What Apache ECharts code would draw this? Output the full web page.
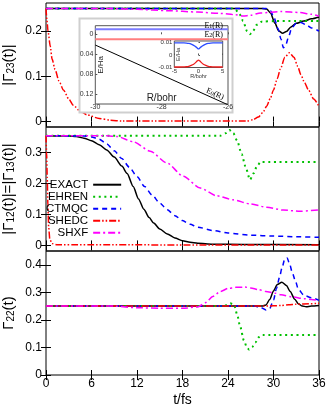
<!DOCTYPE html>
<html>
<head>
<meta charset="utf-8">
<script src="https://cdn.jsdelivr.net/npm/echarts@6/dist/echarts.min.js"></script>
<style>
  html, body { margin: 0; padding: 0; background: #fff; }
  #chart { width: 332px; height: 406px; }
</style>
</head>
<body>
<div id="chart"></div>
<script>
const FONT = '"Liberation Sans", Arial, sans-serif';
const SERIF = '"Liberation Serif", "Times New Roman", serif';

const methods = ['EXACT', 'EHREN', 'CTMQC', 'SHEDC', 'SHXF'];
const tTicks = [0, 6, 12, 18, 24, 30, 36];
const ticks23 = [0, 0.1, 0.2];
const ticks12 = [0, 0.1, 0.2, 0.3];
const ticks22 = [0, 0.1, 0.2, 0.3, 0.4];

// |Gamma_23(t)|  -- [t/fs, value]
const g23Exact = [[0,0.25],[28.5,0.25],[29.1,0.249],[29.6,0.24],[30.2,0.217],[30.7,0.2],[31.2,0.195],[31.7,0.199],[32.3,0.209],[33,0.217],[34,0.222],[35,0.227],[36,0.231]];
const g23Ehren = [[0,0.25],[24.5,0.25],[25,0.247],[25.5,0.238],[26,0.222],[26.5,0.2],[26.9,0.193],[27.3,0.2],[27.8,0.214],[28.5,0.221],[30,0.222],[33,0.222],[36,0.222]];
const g23Ctmqc = [[0,0.25],[29,0.25],[29.6,0.245],[30.1,0.228],[30.6,0.205],[31,0.182],[31.3,0.163],[31.6,0.168],[32,0.188],[32.4,0.207],[33,0.217],[33.6,0.219],[34.3,0.214],[35,0.207],[36,0.2]];
const g23Shedc = [[0,0.25],[0.12,0.225],[0.26,0.2],[0.57,0.166],[0.8,0.138],[1.2,0.115],[1.7,0.09],[2.3,0.07],[3,0.05],[3.6,0.036],[4.5,0.023],[5.4,0.015],[7,0.007],[8.5,0.003],[10,0.001],[26.5,0.001],[27.3,0.004],[28,0.01],[28.6,0.02],[29.1,0.034],[29.6,0.052],[30,0.07],[30.5,0.095],[30.9,0.116],[31.5,0.142],[32.1,0.152],[32.7,0.142],[33.2,0.122],[33.6,0.104],[34.1,0.086],[34.6,0.07],[35.3,0.05],[36,0.033]];
const g23Shxf = [[0,0.25],[8,0.25],[12,0.248],[16,0.245],[20,0.242],[23,0.239],[25,0.236],[26,0.233],[27,0.235],[28.3,0.24],[31,0.243],[33.5,0.241],[35,0.237],[36,0.233]];

// |Gamma_12(t)| = |Gamma_13(t)|
const g12Exact = [[0,0.354],[3,0.353],[4,0.351],[5,0.346],[6,0.338],[7,0.325],[8,0.308],[9,0.285],[10,0.256],[10.7,0.232],[11.5,0.19],[12.2,0.15],[12.9,0.117],[13.6,0.09],[14.2,0.072],[15,0.053],[16,0.037],[17,0.024],[18,0.015],[19,0.01],[20,0.007],[22,0.004],[26,0.003],[36,0.002]];
const g12Ehren = [[0,0.354],[23,0.354],[23.7,0.362],[24.2,0.372],[24.7,0.362],[25.2,0.338],[25.8,0.295],[26.3,0.255],[26.9,0.212],[27.4,0.233],[27.8,0.255],[28.3,0.269],[36,0.269]];
const g12Ctmqc = [[0,0.354],[5,0.353],[6,0.35],[7,0.343],[8,0.328],[9,0.305],[10,0.28],[11,0.252],[12,0.222],[13,0.19],[14,0.162],[15,0.137],[16,0.115],[17,0.096],[18,0.08],[19,0.068],[20,0.059],[22,0.048],[24,0.04],[27,0.033],[30,0.03],[33,0.028],[36,0.026]];
const g12Shedc = [[0,0.354],[0.08,0.3],[0.16,0.22],[0.25,0.13],[0.35,0.06],[0.5,0.02],[0.8,0.006],[1.5,0.002],[36,0.001]];
const g12Shxf = [[0,0.354],[8,0.354],[9.4,0.351],[11.55,0.334],[13.75,0.304],[15.95,0.266],[18.1,0.223],[20.35,0.185],[22.5,0.16],[24.7,0.147],[26.9,0.134],[29.1,0.123],[31.3,0.114],[33.5,0.11],[36,0.115]];

// Gamma_22(t)
const g22Exact = [[0,0.25],[28.5,0.25],[29,0.254],[29.5,0.274],[30,0.305],[30.5,0.328],[31.1,0.337],[31.7,0.325],[32.2,0.303],[32.8,0.275],[33.3,0.258],[33.8,0.25],[34.3,0.248],[35,0.25],[36,0.252]];
const g22Ehren = [[0,0.25],[23.5,0.25],[24.3,0.26],[24.8,0.255],[25.2,0.22],[25.6,0.176],[26.1,0.125],[26.5,0.1],[26.8,0.092],[27.2,0.102],[27.6,0.118],[28.1,0.138],[28.5,0.145],[36,0.145]];
const g22Ctmqc = [[0,0.25],[27.5,0.25],[28.3,0.245],[29,0.236],[29.5,0.242],[30,0.272],[30.4,0.315],[30.8,0.355],[31.1,0.387],[31.5,0.422],[31.8,0.425],[32.1,0.405],[32.5,0.37],[32.9,0.339],[33.3,0.31],[34,0.29],[35,0.28],[36,0.271]];
const g22Shedc = [[0,0.25],[28,0.25],[30,0.251],[31,0.252],[32,0.255],[33,0.257],[34,0.258],[36,0.26]];
const g22Shxf = [[0,0.25],[9,0.25],[12,0.244],[15,0.242],[18,0.242],[20,0.247],[21,0.262],[22,0.285],[23,0.303],[24,0.314],[25,0.318],[26.2,0.319],[27,0.316],[28,0.31],[29,0.303],[30.2,0.297],[31,0.291],[32.4,0.284],[34,0.277],[35,0.274],[36,0.27]];

// inset: adiabatic energies vs R
const insetR = [-30, -26];
const insetE0 = [-0.0215, -0.141];
const insetE1 = [0.01, 0.01];
const insetE2 = [-0.01, -0.01];
const insetXTicks = [-30, -28, -26];
const insetYTicks = [0, -0.04, -0.08, -0.12];

// inset of the inset: avoided crossing region
const nestR = [-5,-4,-3,-2.5,-2,-1.5,-1,-0.6,-0.3,0,0.3,0.6,1,1.5,2,2.5,3,4,5];
const nestE1 = [0.0098,0.0098,0.0098,0.0097,0.0094,0.0088,0.0078,0.0068,0.0058,0.005,0.0058,0.0068,0.0078,0.0088,0.0094,0.0097,0.0098,0.0098,0.0098];
const nestE2 = [-0.0098,-0.0098,-0.0097,-0.0096,-0.0092,-0.0085,-0.0075,-0.0062,-0.005,-0.0042,-0.005,-0.0062,-0.0075,-0.0085,-0.0092,-0.0096,-0.0097,-0.0098,-0.0098];
const nestXTicks = [-5, 0, 5];
const nestYTicks = [-0.01, 0, 0.01];

const lineStyles = {
  EXACT: { color: '#000000', width: 1.5, type: 'solid' },
  EHREN: { color: '#00c000', width: 2, type: [2, 3.6] },
  CTMQC: { color: '#0000ff', width: 1.5, type: [5, 4] },
  SHEDC: { color: '#ff0000', width: 1.5, type: [7, 2, 1.5, 2, 1.5, 2] },
  SHXF:  { color: '#ff00ff', width: 1.5, type: [7, 3, 2, 3] }
};

const panels = [
  { top: 3,   height: 124, min: -0.012, max: 0.262, ticks: ticks23, name: '|Γ{s|23}(t)|',
    data: [g23Exact, g23Ehren, g23Ctmqc, g23Shedc, g23Shxf] },
  { top: 127, height: 124, min: -0.018, max: 0.382, ticks: ticks12, name: '|Γ{s|12}(t)|=|Γ{s|13}(t)|',
    data: [g12Exact, g12Ehren, g12Ctmqc, g12Shedc, g12Shxf] },
  { top: 251, height: 124, min: 0, max: 0.45, ticks: ticks22, name: 'Γ{s|22}(t)',
    data: [g22Exact, g22Ehren, g22Ctmqc, g22Shedc, g22Shxf] }
];

const grid = [], xAxis = [], yAxis = [], series = [];
const tick = { inside: true, length: 5, lineStyle: { color: '#000', width: 1 } };

panels.forEach((p, i) => {
  grid.push({ left: 46, width: 273, top: p.top, height: p.height, show: true,
    backgroundColor: 'transparent', borderColor: '#000', borderWidth: 1, outerBoundsMode: 'none' });
  const last = i === panels.length - 1;
  xAxis.push({
    gridIndex: i, type: 'value', min: 0, max: 36, interval: 6, position: 'bottom',
    axisLine: { show: false }, splitLine: { show: false }, axisTick: tick,
    axisLabel: { show: last, fontFamily: FONT, fontSize: 12, color: '#000', margin: 3 },
    name: last ? 't/fs' : '', nameLocation: 'middle', nameGap: 18, nameMoveOverlap: false,
    nameTextStyle: { fontFamily: FONT, fontSize: 14, color: '#000' }
  });
  xAxis.push({
    gridIndex: i, type: 'value', min: 0, max: 36, interval: 6, position: 'top',
    axisLine: { show: false }, splitLine: { show: false }, axisTick: tick, axisLabel: { show: false }
  });
  yAxis.push({
    gridIndex: i, type: 'value', min: p.min, max: p.max, position: 'left',
    axisLine: { show: false }, splitLine: { show: false },
    axisTick: Object.assign({ customValues: p.ticks }, tick),
    axisLabel: { customValues: p.ticks, fontFamily: FONT, fontSize: 12, color: '#000', margin: 4 },
    name: p.name, nameLocation: 'middle', nameRotate: 90, nameGap: 30, nameMoveOverlap: false,
    nameTextStyle: { fontFamily: FONT, fontSize: 15, color: '#000', lineHeight: 15,
      rich: { s: { fontFamily: FONT, fontSize: 10, color: '#000', verticalAlign: 'bottom', lineHeight: 6 } } }
  });
  yAxis.push({
    gridIndex: i, type: 'value', min: p.min, max: p.max, position: 'right',
    axisLine: { show: false }, splitLine: { show: false },
    axisTick: Object.assign({ customValues: p.ticks }, tick), axisLabel: { show: false }
  });
  methods.forEach((m, k) => {
    series.push({
      type: 'line', name: m, xAxisIndex: 2 * i, yAxisIndex: 2 * i, data: p.data[k],
      symbol: 'none', showSymbol: false, smooth: 0.25, smoothMonotone: 'x',
      lineStyle: lineStyles[m], z: 3, animation: false
    });
  });
});

// inset (grid 3) and nested inset (grid 4)
const gray = '#555';
const smallLabel = { fontFamily: FONT, color: '#333' };
grid.push({ left: 95.3, top: 25.7, width: 132.7, height: 78.3, show: true, z: 11,
  backgroundColor: 'transparent', borderColor: gray, borderWidth: 1, outerBoundsMode: 'none' });
grid.push({ left: 174.3, top: 41, width: 48.4, height: 26.5, show: true, z: 15,
  backgroundColor: '#fff', borderColor: gray, borderWidth: 1, outerBoundsMode: 'none' });

xAxis.push({
  gridIndex: 3, type: 'value', min: -30, max: -26, z: 12,
  axisLine: { show: false }, splitLine: { show: false },
  axisTick: { customValues: insetXTicks, inside: true, length: 2, lineStyle: { color: gray } },
  axisLabel: Object.assign({ customValues: insetXTicks, fontSize: 7, margin: 0 }, smallLabel),
  name: 'R/bohr', nameLocation: 'middle', nameGap: -10.5, nameMoveOverlap: false,
  nameTextStyle: { fontFamily: FONT, fontSize: 10, color: '#222' }
});
yAxis.push({
  gridIndex: 3, type: 'value', min: -0.1394, max: 0.0172, z: 12,
  axisLine: { show: false }, splitLine: { show: false },
  axisTick: { customValues: insetYTicks, inside: true, length: 2, lineStyle: { color: gray } },
  axisLabel: Object.assign({ customValues: insetYTicks, fontSize: 7, margin: 2,
    formatter: v => String(Math.abs(+(+v).toFixed(2))) }, smallLabel),
  name: 'E/Ha', nameLocation: 'middle', nameRotate: 90, nameGap: -9, nameMoveOverlap: false,
  nameTextStyle: { fontFamily: FONT, fontSize: 8, color: '#222' }
});
xAxis.push({
  gridIndex: 4, type: 'value', min: -5, max: 5, z: 16,
  axisLine: { show: false }, splitLine: { show: false },
  axisTick: { customValues: nestXTicks, inside: true, length: 1.5, lineStyle: { color: gray } },
  axisLabel: Object.assign({ customValues: nestXTicks, fontSize: 6, margin: 1 }, smallLabel),
  name: 'R/bohr', nameLocation: 'middle', nameGap: 6, nameMoveOverlap: false,
  nameTextStyle: { fontFamily: FONT, fontSize: 5.5, color: '#333' }
});
yAxis.push({
  gridIndex: 4, type: 'value', min: -0.0102, max: 0.0114, z: 16,
  axisLine: { show: false }, splitLine: { show: false },
  axisTick: { customValues: nestYTicks, inside: true, length: 1.5, lineStyle: { color: gray } },
  axisLabel: Object.assign({ customValues: nestYTicks, fontSize: 6, margin: 2 }, smallLabel),
  name: 'E/Ha', nameLocation: 'middle', nameRotate: 90, nameGap: -7, nameMoveOverlap: false,
  nameTextStyle: { fontFamily: FONT, fontSize: 6, color: '#333' }
});

const pairs = (xs, ys) => xs.map((x, j) => [x, ys[j]]);
series.push(
  { type: 'line', name: 'E1', xAxisIndex: 6, yAxisIndex: 6, data: pairs(insetR, insetE1), symbol: 'none',
    lineStyle: { color: '#7b7bff', width: 2 }, z: 13, animation: false },
  { type: 'line', name: 'E2', xAxisIndex: 6, yAxisIndex: 6, data: pairs(insetR, insetE2), symbol: 'none',
    lineStyle: { color: '#ff7f7f', width: 2 }, z: 13, animation: false },
  { type: 'line', name: 'E0', xAxisIndex: 6, yAxisIndex: 6, data: pairs(insetR, insetE0), symbol: 'none',
    lineStyle: { color: '#000', width: 1 }, z: 13, animation: false },
  { type: 'line', name: 'nE1', xAxisIndex: 7, yAxisIndex: 7, data: pairs(nestR, nestE1), symbol: 'none',
    smooth: 0.3, lineStyle: { color: '#2a4bff', width: 1.3 }, z: 17, animation: false },
  { type: 'line', name: 'nE2', xAxisIndex: 7, yAxisIndex: 7, data: pairs(nestR, nestE2), symbol: 'none',
    smooth: 0.3, lineStyle: { color: '#ee1c1c', width: 1.3 }, z: 17, animation: false }
);

const eLabel = (color, size) => ({
  a: { fontFamily: SERIF, fontSize: size, color: color },
  s: { fontFamily: SERIF, fontSize: size - 2, color: color, verticalAlign: 'bottom', lineHeight: 3 }
});

const option = {
  animation: false,
  backgroundColor: '#fff',
  textStyle: { fontFamily: FONT },
  grid, xAxis, yAxis, series,
  legend: {
    data: methods, orient: 'vertical', align: 'right', left: 46, top: 178.7,
    padding: 0, itemGap: 0, itemWidth: 28, itemHeight: 8,
    itemStyle: { opacity: 0 },
    textStyle: { fontFamily: FONT, fontSize: 11.5, color: '#000' },
    selectedMode: false
  },
  graphic: [
    { type: 'rect', z: 10, shape: { x: 79.5, y: 18.5, width: 153, height: 94 },
      style: { fill: '#fff', stroke: '#cfcfcf', lineWidth: 2 } },
    { type: 'text', z: 14, x: 223, y: 25.5,
      style: { text: '{a|E}{s|1}{a|(R)}', align: 'right', verticalAlign: 'middle', rich: eLabel('#3a3aff', 8) } },
    { type: 'text', z: 14, x: 223, y: 34.5,
      style: { text: '{a|E}{s|2}{a|(R)}', align: 'right', verticalAlign: 'middle', rich: eLabel('#ff3030', 8) } },
    { type: 'text', z: 14, x: 215, y: 94, rotation: -0.4,
      style: { text: '{a|E}{s|0}{a|(R)}', align: 'center', verticalAlign: 'middle', rich: eLabel('#222', 8) } }
  ]
};

const chart = echarts.init(document.getElementById('chart'), null, { renderer: 'canvas' });
chart.setOption(option);
</script>
</body>
</html>
